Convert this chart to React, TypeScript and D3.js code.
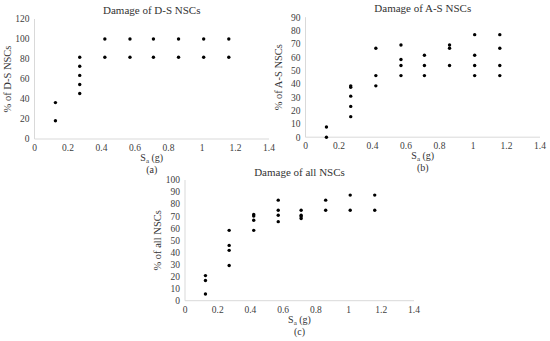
import { scaleLinear } from 'd3'

const saLevels = [0.125, 0.27, 0.42, 0.57, 0.71, 0.86, 1.01, 1.16]

const dsValues = [
  [18.2, 36.4],
  [45.5, 54.5, 63.6, 72.7, 81.8],
  [81.8, 100],
  [81.8, 100],
  [81.8, 100],
  [81.8, 100],
  [81.8, 100],
  [81.8, 100],
]

const asValues = [
  [0, 7.7],
  [15.4, 23.1, 30.8, 37.5, 38.5],
  [38.5, 46.2, 66.7],
  [46.2, 53.8, 58.3, 69.2],
  [46.2, 53.8, 61.5],
  [53.8, 66.7, 69.2],
  [46.2, 53.8, 61.5, 76.9],
  [46.2, 53.8, 66.7, 76.9],
]

const allValues = [
  [5.6, 16.7, 20.8],
  [29.2, 41.7, 45.8, 58.3],
  [58.3, 66.7, 70.2, 71.5],
  [65.5, 70.8, 75, 83.3],
  [68, 69.5, 70.8, 75],
  [75, 83.3],
  [75, 87.5],
  [75, 87.5],
]

const xTicks = [0, 0.2, 0.4, 0.6, 0.8, 1, 1.2, 1.4]
const dsTicks = [0, 20, 40, 60, 80, 100, 120]
const asTicks = [0, 10, 20, 30, 40, 50, 60, 70, 80, 90]
const allTicks = [0, 10, 20, 30, 40, 50, 60, 70, 80, 90, 100]

const font = "'Liberation Serif', 'DejaVu Serif', serif"
const axisColor = '#d9d9d9'
const labelColor = '#404040'

type PanelProps = {
  left: number
  right: number
  top: number
  bottom: number
  yTicks: number[]
  values: number[][]
  title: string
  yLabel: string
  caption: string
  titleY: number
}

function Panel({ left, right, top, bottom, yTicks, values, title, yLabel, caption, titleY }: PanelProps) {
  const xScale = scaleLinear().domain([0, 1.4]).range([left, right])
  const yScale = scaleLinear()
    .domain([0, yTicks[yTicks.length - 1]])
    .range([bottom, top])
  const midX = (left + right) / 2

  return (
    <g>
      <text x={midX} y={titleY} textAnchor="middle" fontSize={11} fill="#333">
        {title}
      </text>

      <line x1={left} y1={top} x2={left} y2={bottom} stroke={axisColor} />
      <line x1={left} y1={bottom} x2={right} y2={bottom} stroke={axisColor} />

      {yTicks.map((tick) => (
        <text
          key={`y-${tick}`}
          x={left - 5}
          y={yScale(tick)}
          dy="0.35em"
          textAnchor="end"
          fontSize={9.5}
          fill={labelColor}
        >
          {tick}
        </text>
      ))}

      {xTicks.map((tick) => (
        <text
          key={`x-${tick}`}
          x={xScale(tick)}
          y={bottom + 12}
          textAnchor="middle"
          fontSize={9.5}
          fill={labelColor}
        >
          {tick}
        </text>
      ))}

      {values.map((group, i) =>
        group.map((v, j) => (
          <circle
            key={`${i}-${j}`}
            cx={xScale(saLevels[i])}
            cy={yScale(v)}
            r={1.7}
            fill="#000"
          />
        )),
      )}

      <text x={midX} y={bottom + 22} textAnchor="middle" fontSize={10} fill="#333">
        S<tspan fontSize={7} dy={2}>a</tspan>
        <tspan dy={-2}> (g)</tspan>
      </text>
      <text x={midX} y={bottom + 34} textAnchor="middle" fontSize={10} fill="#333">
        {caption}
      </text>

      <text
        transform={`translate(${left - 24}, ${(top + bottom) / 2}) rotate(-90)`}
        textAnchor="middle"
        fontSize={10.5}
        fill="#333"
      >
        {yLabel}
      </text>
    </g>
  )
}

export default function App() {
  return (
    <svg
      width={550}
      height={341}
      viewBox="0 0 550 341"
      style={{ position: 'absolute', left: 0, top: 0, background: '#fff', fontFamily: font }}
    >
      <Panel
        left={34.5}
        right={269}
        top={19}
        bottom={139}
        yTicks={dsTicks}
        values={dsValues}
        title="Damage of D-S NSCs"
        yLabel="% of D-S NSCs"
        caption="(a)"
        titleY={14}
      />
      <Panel
        left={305.5}
        right={540}
        top={17.2}
        bottom={137.2}
        yTicks={asTicks}
        values={asValues}
        title="Damage of A-S NSCs"
        yLabel="% of A-S NSCs"
        caption="(b)"
        titleY={12}
      />
      <Panel
        left={185}
        right={414}
        top={180}
        bottom={300.7}
        yTicks={allTicks}
        values={allValues}
        title="Damage of all NSCs"
        yLabel="% of all NSCs"
        caption="(c)"
        titleY={176}
      />
    </svg>
  )
}
